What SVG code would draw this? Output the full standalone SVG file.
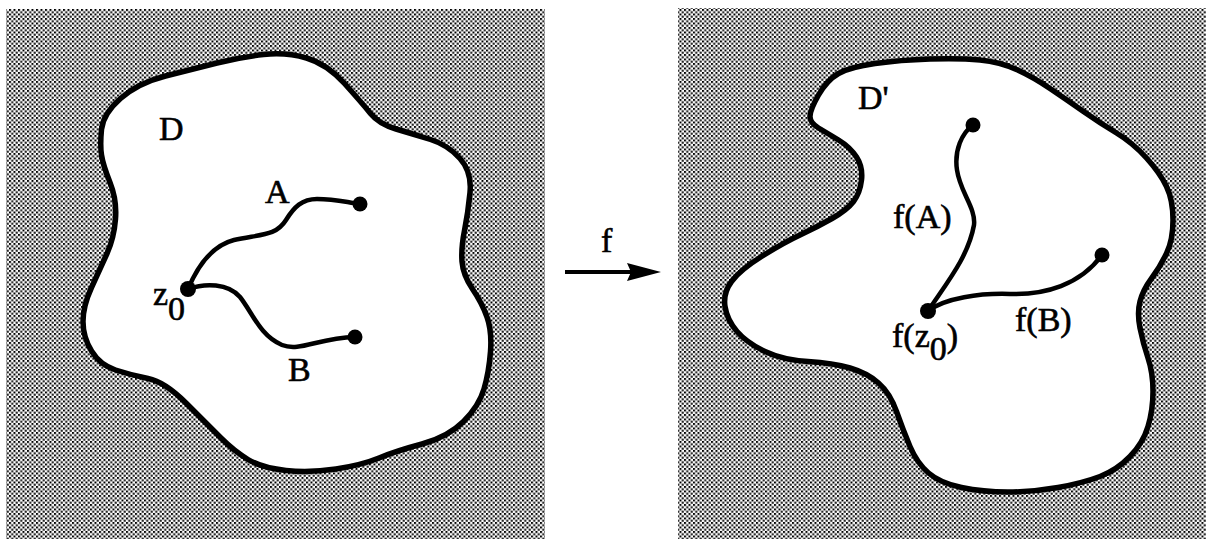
<svg xmlns="http://www.w3.org/2000/svg" width="1206" height="539" viewBox="0 0 1206 539">
  <style>
    .lbl { font-family: "Liberation Serif", "Times New Roman", serif; font-size: 34px; fill: #000; stroke: #000; stroke-width: 0.6; }
    .rim { fill: #fff; stroke: #000; stroke-width: 5.5; stroke-linejoin: round; }
    .path { fill: none; stroke: #000; stroke-width: 4.5; stroke-linecap: round; }
    .pt { fill: #000; }
  </style>
  <defs>
    <!-- halftone screen used for the exterior of each domain -->
    <pattern id="screen" x="0" y="0" width="4.5" height="4.5" patternUnits="userSpaceOnUse">
      <rect x="0" y="0" width="4.5" height="4.5" fill="#fff"/>
      <rect x="0" y="0" width="2" height="2" fill="#000"/>
      <rect x="2.25" y="2.25" width="2" height="2" fill="#000"/>
    </pattern>
  </defs>

  <rect width="1206" height="539" fill="#fff"/>

  <!-- domain D -->
  <g id="domain-D">
    <rect x="6" y="9" width="539" height="530" fill="url(#screen)"/>
    <path class="rim" d="M101.5,129.5 Q103,114 120.5,98.5 Q138,83 165.5,76 Q193,69 217,63 Q241,57 263.5,54.5 Q286,52 306.5,58 Q327,64 344.5,83.5 Q362,103 370.5,113.5 Q379,124 396,129 Q413,134 430.5,139.5 Q448,145 460,158.5 Q472,172 470,192.5 Q468,213 464.5,230.5 Q461,248 462,261.5 Q463,275 472.5,289 Q482,303 487,317 Q492,331 490.5,351.5 Q489,372 484,389 Q479,406 463.5,421.5 Q448,437 422,444 Q396,451 379,458 Q362,465 336,469 Q310,473 286,470.5 Q262,468 248,459.5 Q234,451 220.5,437.5 Q207,424 186,403 Q165,382 148,378.5 Q131,375 115.5,370 Q100,365 91.5,351 Q83,337 83,321.5 Q83,306 91.5,287.5 Q100,269 107,253.5 Q114,238 115.5,219 Q117,200 110,182.5 Q103,165 101.5,155 Q100,145 101.5,129.5 Z"/>
    <text class="lbl" x="159" y="140">D</text>
  </g>

  <!-- domain D' -->
  <g id="domain-Dprime">
    <rect x="678" y="8" width="528" height="531" fill="url(#screen)"/>
    <path class="rim" d="M810,116.5 Q810,110 818.5,95 Q827,80 838.5,73.5 Q850,67 875,63.5 Q900,60 930,59 Q960,58 980,60 Q1000,62 1016.5,69.5 Q1033,77 1050,88.5 Q1067,100 1083.5,111.5 Q1100,123 1116.5,133 Q1133,143 1146.5,158 Q1160,173 1166.5,186.5 Q1173,200 1173,220 Q1173,240 1166.5,253.5 Q1160,267 1151.5,278.5 Q1143,290 1140,301.5 Q1137,313 1140,328 Q1143,343 1148,358 Q1153,373 1153,391.5 Q1153,410 1148,426.5 Q1143,443 1130,456.5 Q1117,470 1100,476.5 Q1083,483 1058,487.5 Q1033,492 1008,492 Q983,492 961.5,487.5 Q940,483 928.5,473 Q917,463 910,446.5 Q903,430 896.5,411.5 Q890,393 878.5,383 Q867,373 850,368 Q833,363 808,361.5 Q783,360 765,351.5 Q747,343 737,331.5 Q727,320 725,306.5 Q723,293 731.5,281.5 Q740,270 761.5,256.5 Q783,243 800,235 Q817,227 832,218.5 Q847,210 853.5,201.5 Q860,193 861.5,180 Q863,167 856.5,157 Q850,147 838.5,140 Q827,133 818.5,128 Q810,123 810,116.5 Z"/>
    <text class="lbl" x="858" y="109">D'</text>
  </g>

  <!-- curves, endpoints and the map arrow -->
  <g id="connectors">
    <path id="curve-A" class="path" d="M188,289 C196,270 210,246 234,240 C262,234 276,236 286,220 C294,207 302,199 317,199 C335,199 345,202 360,204"/>
    <path id="curve-B" class="path" d="M188,289 C205,283 228,283 240,297 C252,312 260,336 282,345 C300,352 318,338 355,337"/>
    <path id="curve-fA" class="path" d="M928,311 C945,285 968,258 974,225 C976,208 960,192 957,170 C954,150 962,133 973,125"/>
    <path id="curve-fB" class="path" d="M928,311 C945,298 980,293 1010,294 C1045,295 1080,285 1102,255"/>
    <line x1="565" y1="272" x2="632" y2="272" stroke="#000" stroke-width="4"/>
    <polygon points="627,263 661,272 627,281 631,272" fill="#000"/>
  </g>

  <g id="points">
    <circle class="pt" cx="188" cy="289" r="8"/>
    <circle class="pt" cx="360" cy="204" r="7.5"/>
    <circle class="pt" cx="355" cy="337" r="7.5"/>
    <circle class="pt" cx="928" cy="311" r="8"/>
    <circle class="pt" cx="973" cy="125" r="7.5"/>
    <circle class="pt" cx="1102" cy="255" r="7.5"/>
  </g>

  <g id="labels">
    <text class="lbl" x="265" y="203">A</text>
    <text class="lbl" x="288" y="381">B</text>
    <text class="lbl" x="153" y="305">z<tspan dy="15">0</tspan></text>
    <text class="lbl" x="601" y="252">f</text>
    <text class="lbl" x="893" y="228">f(A)</text>
    <text class="lbl" x="1015" y="331">f(B)</text>
    <text class="lbl" x="892" y="347">f(z<tspan dy="13">0</tspan><tspan dy="-13">)</tspan></text>
  </g>
</svg>
